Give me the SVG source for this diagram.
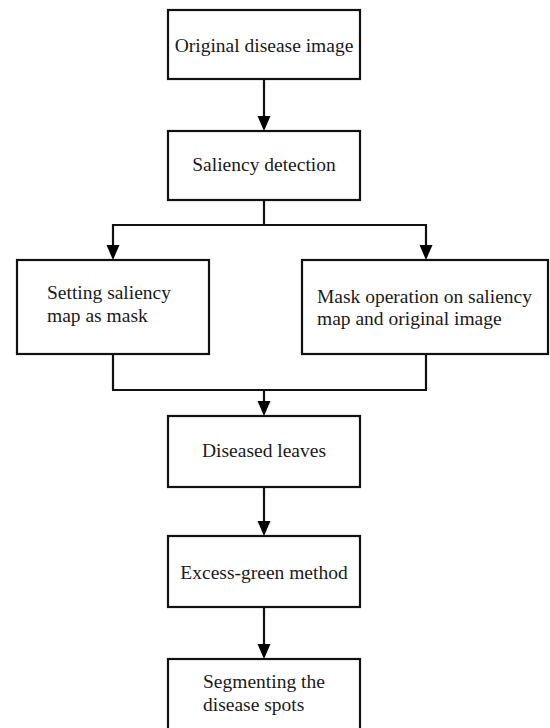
<svg xmlns="http://www.w3.org/2000/svg" width="550" height="728" viewBox="0 0 550 728">
<style>
.box{fill:#fff;stroke:#111;stroke-width:2.2}
.lbl{font-family:"Liberation Serif","Times New Roman",serif;font-size:19.5px;fill:#1a1a1a}
.c{text-anchor:middle}
.ln{fill:none;stroke:#111;stroke-width:2.2}
.hd{fill:#000}
</style>
<rect width="550" height="728" fill="#fff"/>
<g id="connectors">
<path class="ln" d="M264,79 V116"/>
<path class="hd" d="M257.5,116 H270.5 L264,131 Z"/>
<path class="ln" d="M264,200 V225 M113,225 H426 M113,224 V245 M426,224 V245"/>
<path class="hd" d="M106.5,245 H119.5 L113,260 Z"/>
<path class="hd" d="M419.5,245 H432.5 L426,260 Z"/>
<path class="ln" d="M113,354 V390 M426,354 V390 M112,390 H427 M264,390 V401"/>
<path class="hd" d="M257.5,401 H270.5 L264,416 Z"/>
<path class="ln" d="M264,487 V521"/>
<path class="hd" d="M257.5,521 H270.5 L264,536 Z"/>
<path class="ln" d="M264,607 V644"/>
<path class="hd" d="M257.5,644 H270.5 L264,659 Z"/>
</g>
<g id="n1">
<rect class="box" x="168" y="10" width="192" height="69"/>
<text class="lbl c" x="264" y="52">Original disease image</text>
</g>
<g id="n2">
<rect class="box" x="168" y="131" width="192" height="69"/>
<text class="lbl c" x="264" y="171">Saliency detection</text>
</g>
<g id="n3">
<rect class="box" x="17" y="260" width="192" height="94"/>
<text class="lbl" x="47" y="299">Setting saliency</text>
<text class="lbl" x="47" y="322">map as mask</text>
</g>
<g id="n4">
<rect class="box" x="302" y="260" width="246" height="94"/>
<text class="lbl" x="317" y="303">Mask operation on saliency</text>
<text class="lbl" x="317" y="325">map and original image</text>
</g>
<g id="n5">
<rect class="box" x="168" y="416" width="192" height="71"/>
<text class="lbl c" x="264" y="457">Diseased leaves</text>
</g>
<g id="n6">
<rect class="box" x="168" y="536" width="192" height="71"/>
<text class="lbl c" x="264" y="579">Excess-green method</text>
</g>
<g id="n7">
<rect class="box" x="168" y="659" width="192" height="80"/>
<text class="lbl" x="203" y="688">Segmenting the</text>
<text class="lbl" x="203" y="711">disease spots</text>
</g>
</svg>
